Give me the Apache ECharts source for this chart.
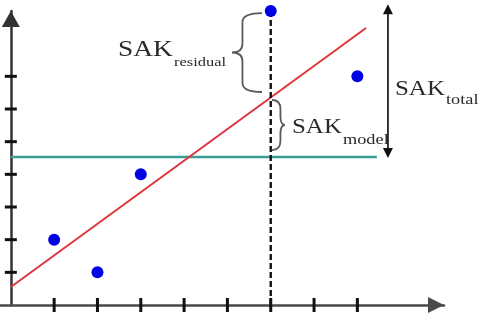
<!DOCTYPE html>
<html><head><meta charset="utf-8">
<script src="https://cdn.jsdelivr.net/npm/echarts@6/dist/echarts.min.js"></script>
<style>html,body{margin:0;padding:0;background:#fff}#c{width:483px;height:316px}</style>
</head><body><div id="c"></div>
<script>
// ---- data ----
const pointX = [1, 2, 3, 6, 8];
const pointY = [2, 1, 4, 9, 7];
const fitLine = [[0, 0.55], [8.2, 8.48]];
const meanLine = [[0, 4.53], [8.45, 4.53]];
const residualLine = [[6, 0], [6, 9]];
const totalArrow = [[8.706, 4.5], [8.706, 9.21]];
const xTicks = [1, 2, 3, 4, 5, 6, 7, 8];
const yTicks = [1, 2, 3, 4, 5, 6, 7];
// braces: [edgeX, topY, bottomY, tipX]
const braces = [[5.798, 8.938, 6.52, 5.105], [6.029, 6.275, 4.744, 6.329]];
const labelMain = ['SAK', 'SAK', 'SAK'];
const labelSub = ['residual', 'model', 'total'];
// annotation anchors (data coords of text baselines): [mainX, mainY, subX, subY]
const labelAnchors = [[2.474, 7.56, 3.767, 7.285], [6.49, 5.204, 7.668, 4.897], [8.868, 6.367, 10.045, 6.122]];
const labelMainSize = [22.5, 20.5, 20.5];
const labelSubSize = [13.5, 15, 15];

const TEXT_COLOR = '#2a2a2a';
const FONT = '"Liberation Serif", "DejaVu Serif", serif';
const SX = 1.22;

const chart = echarts.init(document.getElementById('c'), null, {renderer: 'canvas'});

function bracePath(p0, p1, tipX, xc) {
  const y1 = p0[1], y2 = p1[1], x0 = p0[0];
  const mid = (y1 + y2) / 2;
  const r = Math.min(9, (y2 - y1) / 5);
  return `M${x0},${y1} Q${xc},${y1} ${xc},${y1 + r} L${xc},${mid - r} Q${xc},${mid} ${tipX},${mid} Q${xc},${mid} ${xc},${mid + r} L${xc},${y2 - r} Q${xc},${y2} ${x0},${y2}`;
}

const option = {
  animation: false,
  backgroundColor: '#fff',
  grid: {left: 0, right: 39, top: 11, bottom: 11, containLabel: false},
  xAxis: {
    type: 'value', min: -0.25, max: 10,
    splitLine: {show: false}, axisLabel: {show: false}, axisTick: {show: false},
    axisLine: {onZero: true, symbol: ['none', 'triangle'], symbolSize: [16, 16], symbolOffset: [0, -8],
      lineStyle: {color: '#4a4a4a', width: 2.5}}
  },
  yAxis: {
    type: 'value', min: 0, max: 9,
    splitLine: {show: false}, axisLabel: {show: false}, axisTick: {show: false},
    axisLine: {onZero: true, symbol: ['none', 'triangle'], symbolSize: [18, 16], symbolOffset: [0, -8],
      lineStyle: {color: '#333', width: 2.5}}
  },
  series: [
    {
      type: 'line', data: meanLine, symbol: 'none', z: 3,
      lineStyle: {color: '#3a9e92', width: 2.5}
    },
    {
      type: 'line', data: fitLine, symbol: 'none', z: 3,
      lineStyle: {color: '#e0343c', width: 2}
    },
    {
      type: 'line', data: residualLine, symbol: 'none', z: 4,
      lineStyle: {color: '#111', width: 2.4, type: [6, 3]}
    },
    {
      type: 'custom', z: 5,
      data: xTicks.map(v => [v, 0]),
      renderItem: (params, api) => {
        const p = api.coord([api.value(0), api.value(1)]);
        return {type: 'line', shape: {x1: p[0], y1: p[1] - 7, x2: p[0], y2: p[1] + 7},
          style: {stroke: '#111', lineWidth: 3}};
      }
    },
    {
      type: 'custom', z: 5,
      data: yTicks.map(v => [0, v]),
      renderItem: (params, api) => {
        const p = api.coord([api.value(0), api.value(1)]);
        return {type: 'line', shape: {x1: p[0] - 6, y1: p[1], x2: p[0] + 6, y2: p[1]},
          style: {stroke: '#111', lineWidth: 3}};
      }
    },
    {
      type: 'custom', z: 5,
      data: braces,
      renderItem: (params, api) => {
        const x0 = api.value(0), yt = api.value(1), yb = api.value(2), xt = api.value(3);
        const p0 = api.coord([x0, yt]);
        const p1 = api.coord([x0, yb]);
        const pt = api.coord([xt, yt]);
        const xc = pt[0] + 0.35 * (p0[0] - pt[0]);
        return {type: 'path', shape: {pathData: bracePath(p0, p1, pt[0], xc)},
          style: {fill: 'none', stroke: '#5a5a5a', lineWidth: 1.8}};
      }
    },
    {
      type: 'custom', z: 5,
      data: [[totalArrow[0][0], totalArrow[0][1], totalArrow[1][0], totalArrow[1][1]]],
      renderItem: (params, api) => {
        const a = api.coord([api.value(0), api.value(1)]);
        const b = api.coord([api.value(2), api.value(3)]);
        const h = 10, w = 5;
        return {type: 'group', children: [
          {type: 'line', shape: {x1: a[0], y1: a[1] - h + 1, x2: b[0], y2: b[1] + h - 1},
            style: {stroke: '#222', lineWidth: 1.8}},
          {type: 'polygon', shape: {points: [[b[0], b[1]], [b[0] - w, b[1] + h], [b[0] + w, b[1] + h]]},
            style: {fill: '#111'}},
          {type: 'polygon', shape: {points: [[a[0], a[1]], [a[0] - w, a[1] - h], [a[0] + w, a[1] - h]]},
            style: {fill: '#111'}}
        ]};
      }
    },
    {
      type: 'scatter', z: 10,
      data: pointX.map((x, i) => [x, pointY[i]]),
      symbol: 'circle', symbolSize: 12,
      itemStyle: {color: '#0000e6', opacity: 1}
    },
    {
      type: 'custom', z: 6,
      data: labelAnchors.map((a, i) => [a[0], a[1], a[2], a[3], i]),
      renderItem: (params, api) => {
        const i = api.value(4);
        const m = api.coord([api.value(0), api.value(1)]);
        const s = api.coord([api.value(2), api.value(3)]);
        const fm = labelMainSize[i], fs = labelSubSize[i];
        return {type: 'group', children: [
          {type: 'text', x: m[0], y: m[1] - 0.34 * fm, scaleX: SX,
            style: {x: 0, y: 0, text: labelMain[i], fill: TEXT_COLOR, font: `${fm}px ${FONT}`,
              align: 'left', verticalAlign: 'middle'}},
          {type: 'text', x: s[0], y: s[1] - 0.34 * fs, scaleX: SX,
            style: {x: 0, y: 0, text: labelSub[i], fill: TEXT_COLOR, font: `${fs}px ${FONT}`,
              align: 'left', verticalAlign: 'middle'}}
        ]};
      }
    }
  ]
};
chart.setOption(option);
</script>
</body></html>
